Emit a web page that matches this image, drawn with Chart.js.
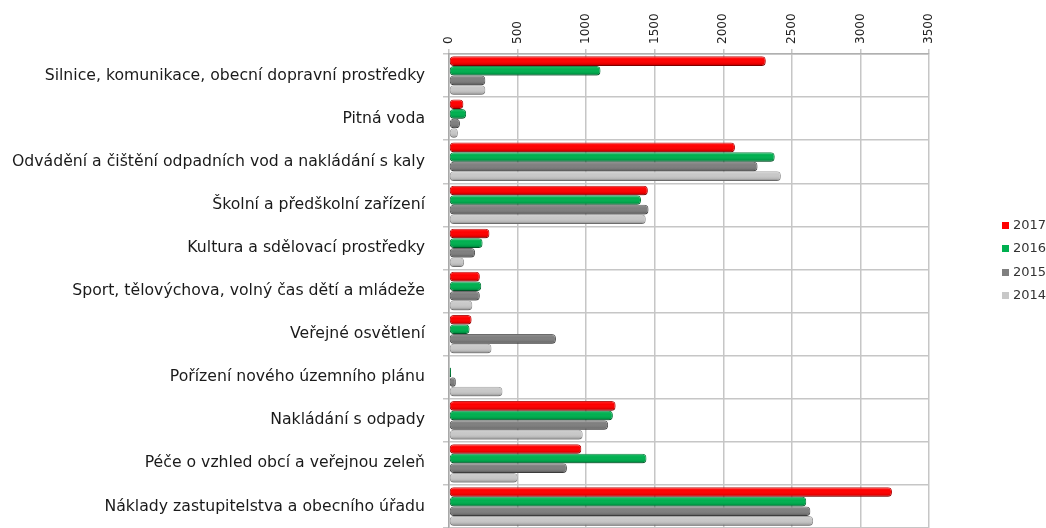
<!DOCTYPE html>
<html>
<head>
<meta charset="utf-8">
<script src="https://cdn.jsdelivr.net/npm/chart.js@4/dist/chart.umd.min.js"></script>
<style>
  html, body { margin: 0; padding: 0; background: #fff; }
  #wrap { position: relative; width: 1046px; height: 528px; overflow: hidden; }
  #myBarChart { display: block; }
  #legend { position: absolute; left: 1002px; top: 213px; font-family: "DejaVu Sans", sans-serif; font-size: 13px; color: #333; }
  #legend div { height: 23.3px; line-height: 23.3px; white-space: nowrap; }
  #legend span { display: inline-block; width: 7px; height: 7px; margin-right: 4px; vertical-align: 0px; }
</style>
</head>
<body>
<div id="wrap">
  <canvas id="myBarChart" width="1046" height="528"></canvas>
  <div id="legend"></div>
</div>
<script>
const categories = [
    'Silnice, komunikace, obecní dopravní prostředky',
    'Pitná voda',
    'Odvádění a čištění odpadních vod a nakládání s kaly',
    'Školní a předškolní zařízení',
    'Kultura a sdělovací prostředky',
    'Sport, tělovýchova, volný čas dětí a mládeže',
    'Veřejné osvětlení',
    'Pořízení nového územního plánu',
    'Nakládání s odpady',
    'Péče o vzhled obcí a veřejnou zeleň',
    'Náklady zastupitelstva a obecního úřadu'
];
const seriesNames = ['2017', '2016', '2015', '2014'];
const values2017 = [2310, 105, 2085, 1450, 295, 225, 165, 0, 1215, 965, 3230];
const values2016 = [1105, 125, 2375, 1400, 245, 235, 150, 15, 1195, 1440, 2605];
const values2015 = [265, 80, 2250, 1455, 190, 225, 780, 50, 1160, 860, 2635];
const values2014 = [265, 65, 2420, 1435, 110, 170, 310, 390, 975, 500, 2655];
const xTicks = [0, 500, 1000, 1500, 2000, 2500, 3000, 3500];

const fills = ['#ff0000', '#00b050', '#7f7f7f', '#c8c8c8'];
const edges = ['#b30000', '#007a38', '#555555', '#9a9a9a'];
const FONT = '"DejaVu Sans", sans-serif';

// cylinder-ish shading over each bar
const shade = {
    id: 'shade',
    afterDatasetsDraw(chart) {
        const ctx = chart.ctx;
        chart.data.datasets.forEach((ds, i) => {
            const meta = chart.getDatasetMeta(i);
            meta.data.forEach(bar => {
                const p = bar.getProps(['x', 'y', 'base', 'height'], true);
                const w = p.x - p.base;
                if (w <= 0) return;
                const top = p.y - p.height / 2;
                const g = ctx.createLinearGradient(0, top, 0, top + p.height);
                g.addColorStop(0, 'rgba(255,255,255,0.15)');
                g.addColorStop(0.35, 'rgba(255,255,255,0.0)');
                g.addColorStop(0.75, 'rgba(0,0,0,0.08)');
                g.addColorStop(1, 'rgba(0,0,0,0.35)');
                ctx.save();
                ctx.fillStyle = g;
                ctx.beginPath();
                ctx.roundRect(p.base, top, w, p.height, Math.min(4, w / 2));
                ctx.fill();
                ctx.restore();
            });
        });
    }
};

// vertical tick labels of the top axis, reading upward
const topLabels = {
    id: 'topLabels',
    afterDraw(chart) {
        const ctx = chart.ctx;
        const x = chart.scales.x;
        ctx.save();
        ctx.fillStyle = '#222';
        ctx.font = '12px ' + FONT;
        ctx.textAlign = 'left';
        ctx.textBaseline = 'middle';
        xTicks.forEach(v => {
            ctx.save();
            ctx.translate(x.getPixelForValue(v), 44);
            ctx.rotate(-Math.PI / 2);
            ctx.fillText(String(v), 0, 0);
            ctx.restore();
        });
        ctx.restore();
    }
};

const config = {
    type: 'bar',
    data: {
        labels: categories,
        datasets: [values2017, values2016, values2015, values2014].map((d, i) => ({
            label: seriesNames[i],
            data: d,
            backgroundColor: fills[i],
            borderColor: edges[i],
            borderWidth: 1,
            borderSkipped: false,
            borderRadius: 4,
            barPercentage: 1,
            categoryPercentage: 0.89
        }))
    },
    options: {
        indexAxis: 'y',
        responsive: false,
        animation: false,
        layout: { padding: { left: 0, right: 117, top: 0, bottom: 0 } },
        plugins: {
            legend: { display: false },
            tooltip: { enabled: false }
        },
        scales: {
            x: {
                position: 'top',
                min: 0,
                max: 3500,
                afterBuildTicks: s => { s.ticks = xTicks.map(v => ({ value: v })); },
                afterFit: s => { s.height = 54; s.paddingLeft = 0; s.paddingRight = 0; },
                grid: { color: '#c6c6c6', lineWidth: 1.5, tickLength: 5 },
                border: { color: '#b0b0b0', width: 1.5 },
                ticks: { display: false }
            },
            y: {
                afterFit: s => { s.width = 449; s.paddingTop = 0; s.paddingBottom = 0; },
                grid: { color: '#c6c6c6', lineWidth: 1.5, tickLength: 6 },
                border: { color: '#a8a8a8', width: 1.5 },
                ticks: {
                    padding: 18,
                    color: '#1a1a1a',
                    font: { family: FONT, size: 15.7 }
                }
            }
        }
    },
    plugins: [shade, topLabels]
};

new Chart(document.querySelector('#myBarChart'), config);

const legend = document.querySelector('#legend');
seriesNames.forEach((n, i) => {
    const row = document.createElement('div');
    row.innerHTML = `<span style="background:${fills[i]}"></span>${n}`;
    legend.appendChild(row);
});
</script>
</body>
</html>
